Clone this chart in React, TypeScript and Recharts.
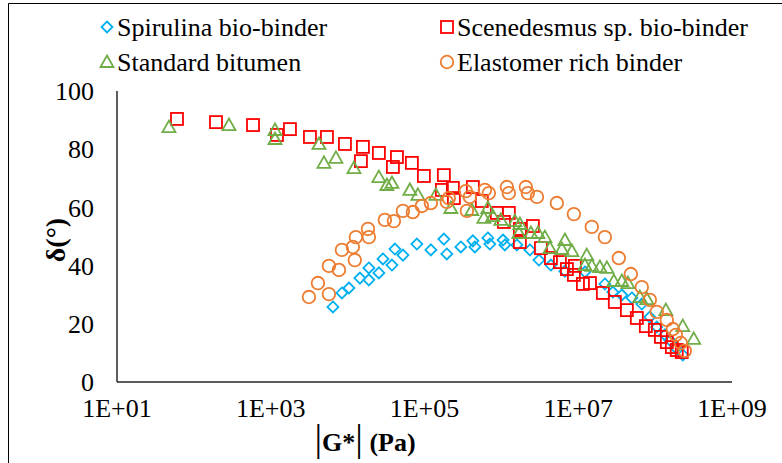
import React from 'react';
import { ScatterChart, Scatter, XAxis, YAxis, Label } from 'recharts';

// |G*| (Pa) and phase angle (deg)
const spirulina = [
  { g: 6440, d: 25.8 }, { g: 8430, d: 30.6 }, { g: 10400, d: 32.3 }, { g: 14450, d: 35.7 },
  { g: 18900, d: 39.2 }, { g: 18900, d: 35.1 }, { g: 25500, d: 37.5 }, { g: 28800, d: 42.3 },
  { g: 37700, d: 40.2 }, { g: 41200, d: 45.7 }, { g: 52400, d: 43.6 }, { g: 79600, d: 47.4 },
  { g: 121000, d: 45.4 }, { g: 178600, d: 49.1 }, { g: 195000, d: 44.0 }, { g: 297000, d: 46.4 },
  { g: 426000, d: 48.5 }, { g: 452000, d: 46.4 }, { g: 667000, d: 49.5 }, { g: 708000, d: 47.4 },
  { g: 1.05e6, d: 48.8 }, { g: 1.11e6, d: 47.1 }, { g: 1.59e6, d: 47.1 }, { g: 2.35e6, d: 45.4 },
  { g: 3.08e6, d: 41.9 }, { g: 4.41e6, d: 40.2 }, { g: 6.7e6, d: 38.1 }, { g: 1.22e7, d: 37.8 },
  { g: 2.22e7, d: 33.7 }, { g: 2.82e7, d: 30.9 }, { g: 3.69e7, d: 29.9 }, { g: 4.98e7, d: 28.9 },
  { g: 6.71e7, d: 26.8 }, { g: 8.53e7, d: 22.3 }, { g: 1.05e8, d: 18.9 }, { g: 1.34e8, d: 16.2 },
  { g: 1.55e8, d: 14.4 }, { g: 1.86e8, d: 11.7 }, { g: 2.29e8, d: 9.3 },
];

const scenedesmus = [
  { g: 60.3, d: 90.4 }, { g: 194, d: 89.3 }, { g: 588, d: 88.3 }, { g: 1205, d: 84.9 },
  { g: 1778, d: 86.9 }, { g: 3236, d: 84.2 }, { g: 5383, d: 84.2 }, { g: 9226, d: 81.8 },
  { g: 15800, d: 80.8 }, { g: 14900, d: 75.9 }, { g: 25500, d: 78.7 }, { g: 43800, d: 77.3 },
  { g: 38800, d: 73.9 }, { g: 68500, d: 75.3 }, { g: 98200, d: 70.8 }, { g: 178600, d: 71.1 },
  { g: 168300, d: 66.0 }, { g: 234000, d: 66.7 }, { g: 241000, d: 63.2 }, { g: 425600, d: 67.0 },
  { g: 557000, d: 62.2 }, { g: 873000, d: 58.1 }, { g: 1.25e6, d: 58.1 }, { g: 1.08e6, d: 55.0 },
  { g: 1.74e6, d: 52.6 }, { g: 2.57e6, d: 53.6 }, { g: 1.74e6, d: 48.1 }, { g: 3.27e6, d: 46.0 },
  { g: 4.41e6, d: 42.6 }, { g: 5.77e6, d: 41.2 }, { g: 7.12e6, d: 38.8 }, { g: 9.04e6, d: 39.9 },
  { g: 8.77e6, d: 36.8 }, { g: 1.15e7, d: 33.7 }, { g: 1.42e7, d: 34.0 }, { g: 2.09e7, d: 30.6 },
  { g: 2.99e7, d: 27.5 }, { g: 4.29e7, d: 24.7 }, { g: 5.78e7, d: 22.0 }, { g: 7.57e7, d: 19.2 },
  { g: 9.91e7, d: 17.9 }, { g: 1.19e8, d: 15.5 }, { g: 1.42e8, d: 13.7 }, { g: 1.65e8, d: 12.0 },
  { g: 1.91e8, d: 11.0 }, { g: 2.22e8, d: 10.3 },
];

const standard = [
  { g: 47.4, d: 87.6 }, { g: 286, d: 88.3 }, { g: 1135, d: 86.6 }, { g: 1135, d: 83.5 },
  { g: 4236, d: 81.8 }, { g: 4920, d: 75.3 }, { g: 7050, d: 77.0 }, { g: 12080, d: 73.5 },
  { g: 25500, d: 70.4 }, { g: 32400, d: 67.7 }, { g: 37700, d: 68.4 }, { g: 64600, d: 66.0 },
  { g: 82000, d: 64.3 }, { g: 140600, d: 64.3 }, { g: 220000, d: 59.8 }, { g: 413000, d: 59.1 },
  { g: 592000, d: 56.4 }, { g: 667000, d: 59.8 }, { g: 774000, d: 57.0 }, { g: 984000, d: 55.7 },
  { g: 1.5e6, d: 55.3 }, { g: 1.74e6, d: 54.3 }, { g: 1.69e6, d: 51.2 }, { g: 2.42e6, d: 51.2 },
  { g: 2.99e6, d: 51.2 }, { g: 3.68e6, d: 49.8 }, { g: 4.28e6, d: 46.0 }, { g: 6.12e6, d: 45.7 },
  { g: 6.7e6, d: 48.8 }, { g: 8.26e6, d: 45.0 }, { g: 1.29e7, d: 43.6 }, { g: 1.22e7, d: 40.2 },
  { g: 1.5e7, d: 39.9 }, { g: 1.91e7, d: 39.5 }, { g: 2.36e7, d: 39.2 }, { g: 2.9e7, d: 34.7 },
  { g: 3.69e7, d: 34.7 }, { g: 4.42e7, d: 34.0 }, { g: 6.32e7, d: 29.2 }, { g: 7.8e7, d: 28.5 },
  { g: 1.38e8, d: 24.7 }, { g: 2.29e8, d: 19.2 }, { g: 3.18e8, d: 14.8 },
];

const elastomer = [
  { g: 3140, d: 29.2 }, { g: 4110, d: 34.0 }, { g: 5710, d: 30.2 }, { g: 5710, d: 39.9 },
  { g: 7710, d: 38.5 }, { g: 8430, d: 45.4 }, { g: 11700, d: 46.4 }, { g: 12400, d: 41.9 },
  { g: 12800, d: 49.8 }, { g: 18400, d: 52.6 }, { g: 18900, d: 49.8 }, { g: 30500, d: 55.7 },
  { g: 40000, d: 55.3 }, { g: 52400, d: 58.8 }, { g: 70600, d: 58.4 }, { g: 92500, d: 60.5 },
  { g: 121000, d: 61.5 }, { g: 195000, d: 61.9 }, { g: 207000, d: 63.2 }, { g: 345000, d: 65.6 },
  { g: 356000, d: 58.8 }, { g: 389000, d: 63.6 }, { g: 610000, d: 66.0 }, { g: 687000, d: 64.9 },
  { g: 1.18e6, d: 67.0 }, { g: 1.25e6, d: 64.9 }, { g: 2.08e6, d: 67.0 }, { g: 2.21e6, d: 64.9 },
  { g: 2.9e6, d: 63.6 }, { g: 5.27e6, d: 61.5 }, { g: 8.77e6, d: 57.7 }, { g: 1.5e7, d: 53.3 },
  { g: 2.22e7, d: 49.8 }, { g: 3.37e7, d: 42.6 }, { g: 4.83e7, d: 37.1 }, { g: 6.71e7, d: 32.6 },
  { g: 8.53e7, d: 28.2 }, { g: 1.05e8, d: 24.1 }, { g: 1.42e8, d: 21.3 }, { g: 1.7e8, d: 18.2 },
  { g: 1.86e8, d: 16.2 }, { g: 2.16e8, d: 13.4 }, { g: 2.43e8, d: 10.7 },
];

const xTicks = [10, 1e3, 1e5, 1e7, 1e9];
const yTicks = [0, 20, 40, 60, 80, 100];

const BLUE = '#00B0F0';
const RED = '#FF0000';
const GREEN = '#70AD47';
const ORANGE = '#ED7D31';
const FONT = "'Liberation Serif', 'Times New Roman', Times, 'DejaVu Serif', serif";

const fmtSci = (v: number) => '1E+' + String(Math.round(Math.log10(v))).padStart(2, '0');

const Diamond = ({ cx, cy }: any) => (
  <path d={`M${cx},${cy - 5.5}L${cx + 5.5},${cy}L${cx},${cy + 5.5}L${cx - 5.5},${cy}Z`} fill="none" stroke={BLUE} strokeWidth={1.8} />
);
const Square = ({ cx, cy }: any) => (
  <rect x={cx - 6} y={cy - 6} width={12} height={12} fill="none" stroke={RED} strokeWidth={1.8} />
);
const Triangle = ({ cx, cy }: any) => (
  <path d={`M${cx},${cy - 6.5}L${cx + 6.5},${cy + 5}L${cx - 6.5},${cy + 5}Z`} fill="none" stroke={GREEN} strokeWidth={1.8} />
);
const Circle = ({ cx, cy }: any) => (
  <circle cx={cx} cy={cy} r={6.3} fill="none" stroke={ORANGE} strokeWidth={1.8} />
);

const legendItems = [
  { name: 'Spirulina bio-binder', Shape: Diamond, x: 107, y: 27 },
  { name: 'Scenedesmus sp. bio-binder', Shape: Square, x: 447, y: 27 },
  { name: 'Standard bitumen', Shape: Triangle, x: 107, y: 62 },
  { name: 'Elastomer rich binder', Shape: Circle, x: 447, y: 62 },
];

const tickStyle = { fill: '#000', fontSize: 26, style: { fontFamily: FONT } };

export default function App() {
  return (
    <div style={{ position: 'absolute', left: 0, top: 0, width: 782, height: 463, background: '#fff', overflow: 'hidden', fontFamily: FONT }}>
      <ScatterChart width={782} height={463} margin={{ top: 91, right: 50, bottom: 0, left: 0 }} style={{ fontFamily: FONT }}>
        <XAxis
          dataKey="g"
          type="number"
          scale="log"
          domain={[10, 1e9]}
          ticks={xTicks}
          tickFormatter={fmtSci}
          allowDataOverflow
          height={81}
          tickLine={false}
          tickSize={0}
          tickMargin={17}
          axisLine={{ stroke: '#262626', strokeWidth: 1.5 }}
          tick={tickStyle}
        >
          <Label
            content={() => (
              <text x={365} y={451} textAnchor="middle" style={{ fontFamily: FONT }} fill="#000" fontWeight="bold" fontSize={26}>
                <tspan fontWeight="normal" fontSize={38}>|</tspan>
                <tspan>G*</tspan>
                <tspan fontWeight="normal" fontSize={38}>|</tspan>
                <tspan> (Pa)</tspan>
              </text>
            )}
          />
        </XAxis>
        <YAxis
          dataKey="d"
          type="number"
          domain={[0, 100]}
          ticks={yTicks}
          width={117}
          tickLine={false}
          tickSize={0}
          tickMargin={23}
          axisLine={{ stroke: '#262626', strokeWidth: 1.5 }}
          tick={tickStyle}
        >
          <Label
            content={() => (
              <text x={55} y={240} transform="rotate(-90 55 240)" textAnchor="middle" dominantBaseline="central" style={{ fontFamily: FONT }} fill="#000" fontWeight="bold" fontSize={28}>
                δ(°)
              </text>
            )}
          />
        </YAxis>
        <Scatter name="Spirulina bio-binder" data={spirulina} shape={(p: any) => <Diamond {...p} />} isAnimationActive={false} />
        <Scatter name="Scenedesmus sp. bio-binder" data={scenedesmus} shape={(p: any) => <Square {...p} />} isAnimationActive={false} />
        <Scatter name="Standard bitumen" data={standard} shape={(p: any) => <Triangle {...p} />} isAnimationActive={false} />
        <Scatter name="Elastomer rich binder" data={elastomer} shape={(p: any) => <Circle {...p} />} isAnimationActive={false} />
      </ScatterChart>
      <svg width={782} height={463} style={{ position: 'absolute', left: 0, top: 0, pointerEvents: 'none', fontFamily: FONT }}>
        <path d="M8.5,470L8.5,3.5L790,3.5" fill="none" stroke="#000" strokeWidth={1} />
        {legendItems.map(({ name, Shape, x, y }) => (
          <g key={name}>
            <Shape cx={x} cy={y} />
            <text x={x + 10} y={y} dominantBaseline="central" style={{ fontFamily: FONT }} fontSize={26} fill="#000">
              {name}
            </text>
          </g>
        ))}
      </svg>
    </div>
  );
}
